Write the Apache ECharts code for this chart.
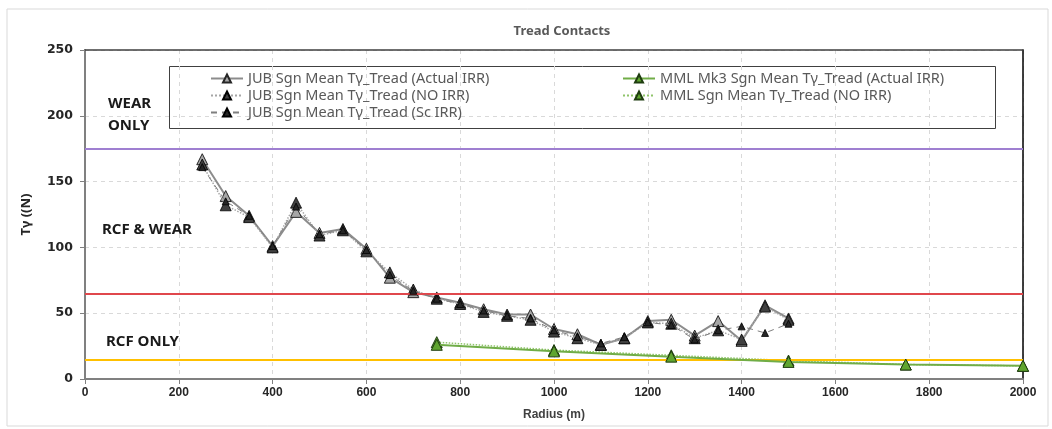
<!DOCTYPE html>
<html>
<head>
<meta charset="utf-8">
<title>Tread Contacts</title>
<script src="https://cdn.jsdelivr.net/npm/echarts@6/dist/echarts.min.js"></script>
<style>
  html, body { margin: 0; padding: 0; background: #fff; }
  #main { width: 1052px; height: 429px; }
</style>
</head>
<body>
<div id="main"></div>
<script type="text/javascript">
// radius (m) for the JUB points
var xJub = [250, 300, 350, 400, 450, 500, 550, 600, 650, 700, 750, 800, 850, 900, 950,
            1000, 1050, 1100, 1150, 1200, 1250, 1300, 1350, 1400, 1450, 1500];
var jubActual = [167, 139, 124, 101, 127, 111, 114, 99, 77, 66, 62, 58, 53, 49, 49,
                 38, 34, 26, 31, 44, 45, 33, 44, 29, 56, 46];
var jubNo = [163, 132, 123, 100, 134, 109, 113, 97, 81, 68, 61, 57, 51, 48, 45,
             36, 31, 26, 31, 43, 42, 31, 37, 30, 55, 45];
var jubSc = [161, 135, 124, 101, 131, 110, 113, 98, 79, 67, 61, 57, 52, 48, 46,
             37, 32, 27, 32, 43, 41, 30, 37, 40, 35, 42];

// radius (m) for the MML points
var xMml = [750, 1000, 1250, 1500, 1750, 2000];
var mmlActual = [26, 21, 17, 13, 11, 10];
var mmlNo = [28, 22, 18, 14, 11, 10];

// zone limits: wear only / rcf & wear / rcf only
var limits = [175, 65, 15];
var limitColors = ['#9f7fd1', '#e0474c', '#ffc000'];

var seriesNames = [
  'JUB Sgn Mean Tγ_Tread (Actual IRR)',
  'JUB Sgn Mean Tγ_Tread (NO IRR)',
  'JUB Sgn Mean Tγ_Tread (Sc IRR)',
  'MML Mk3 Sgn Mean Tγ_Tread (Actual IRR)',
  'MML Sgn Mean Tγ_Tread (NO IRR)'
];

function pairs(xs, ys) {
  var out = [];
  for (var i = 0; i < xs.length; i++) out.push([xs[i], ys[i]]);
  return out;
}

var myChart = echarts.init(document.getElementById('main'));

var legendText = { fontFamily: 'Noto Sans', fontSize: 14.5, color: '#595959' };
var tickFont = 'Liberation Sans Narrow, Liberation Sans';

var option = {
  animation: false,
  backgroundColor: '#fff',
  title: {
    text: 'Tread Contacts',
    left: 557,
    textAlign: 'center',
    top: 20,
    textStyle: { fontFamily: 'Noto Sans', fontSize: 13, fontWeight: 'bold', color: '#595959' }
  },
  grid: { left: 85, right: 29, top: 50, bottom: 50 },
  legend: [{
    data: seriesNames.slice(0, 3),
    orient: 'vertical',
    left: 205, top: 66,
    itemWidth: 32, itemHeight: 10, itemGap: 2,
    textStyle: legendText
  }, {
    data: seriesNames.slice(3),
    orient: 'vertical',
    left: 617, top: 66,
    itemWidth: 32, itemHeight: 10, itemGap: 2,
    textStyle: legendText
  }],
  xAxis: [{
    type: 'value',
    min: 0, max: 2000, interval: 200,
    name: 'Radius (m)',
    nameLocation: 'middle',
    nameGap: 30,
    nameTextStyle: { fontFamily: tickFont, fontSize: 12, fontWeight: 'bold', color: '#404040' },
    axisLine: { onZero: false, lineStyle: { color: '#808080', width: 2 } },
    axisTick: { show: true, length: 5, lineStyle: { color: '#808080' } },
    axisLabel: {
      fontFamily: tickFont, fontSize: 12, fontWeight: 'bold', color: '#262626', margin: 8,
      formatter: function(v) { return String(v); }
    },
    splitLine: { show: true, lineStyle: { color: '#d9d9d9', type: [4, 4] } }
  }, {
    // top frame edge
    type: 'value', position: 'top',
    min: 0, max: 2000,
    axisLine: { onZero: false, lineStyle: { color: '#404040', width: 1.5 } },
    axisTick: { show: false }, axisLabel: { show: false }, splitLine: { show: false }
  }],
  yAxis: [{
    type: 'value',
    min: 0, max: 250, interval: 50,
    name: 'Tγ ((N)',
    nameLocation: 'middle',
    nameGap: 52,
    nameTextStyle: { fontFamily: 'Noto Sans', fontSize: 13, fontWeight: 'bold', color: '#262626' },
    axisLine: { show: true, lineStyle: { color: '#808080', width: 2 } },
    axisTick: { show: true, length: 5, lineStyle: { color: '#808080' } },
    axisLabel: { fontFamily: 'DejaVu Sans', fontSize: 12.5, fontWeight: 'bold', color: '#262626', margin: 12 },
    splitLine: { show: true, lineStyle: { color: '#d9d9d9', type: [4, 4] } }
  }, {
    // right frame edge
    type: 'value', position: 'right',
    min: 0, max: 250,
    axisLine: { show: true, onZero: false, lineStyle: { color: '#000', width: 1.5 } },
    axisTick: { show: false }, axisLabel: { show: false }, splitLine: { show: false }
  }],
  graphic: [
    // outer frame
    { type: 'rect', shape: { x: 7, y: 9, width: 1041, height: 417 },
      style: { fill: 'none', stroke: '#d9d9d9', lineWidth: 1 }, z: -1 },
    // legend frame
    { type: 'rect', shape: { x: 169.5, y: 66.5, width: 826, height: 62 },
      style: { fill: 'none', stroke: '#404040', lineWidth: 1 }, z: 0 },
    { type: 'text', left: 108, top: 93,
      style: { text: 'WEAR\nONLY', fontFamily: 'Noto Sans', fontSize: 15, fontWeight: 'bold', fill: '#1a1a1a', lineHeight: 22 }, z: 10 },
    { type: 'text', left: 102, top: 222,
      style: { text: 'RCF & WEAR', fontFamily: 'Noto Sans', fontSize: 15, fontWeight: 'bold', fill: '#1a1a1a' }, z: 10 },
    { type: 'text', left: 106, top: 334,
      style: { text: 'RCF ONLY', fontFamily: 'Noto Sans', fontSize: 15, fontWeight: 'bold', fill: '#1a1a1a' }, z: 10 }
  ],
  series: [{
    name: 'limits',
    type: 'line',
    data: [],
    markLine: {
      silent: true,
      symbol: 'none',
      label: { show: false },
      data: limits.map(function(v, i) {
        return { yAxis: v, lineStyle: { color: limitColors[i], width: 2, type: 'solid' } };
      })
    }
  }, {
    name: seriesNames[0],
    type: 'line',
    data: pairs(xJub, jubActual),
    symbol: 'triangle', symbolSize: 11,
    lineStyle: { color: '#8c8c8c', width: 2 },
    itemStyle: { color: '#a6a6a6', borderColor: '#262626', borderWidth: 1 },
    z: 3
  }, {
    name: seriesNames[1],
    type: 'line',
    data: pairs(xJub, jubNo),
    symbol: 'triangle', symbolSize: 11,
    lineStyle: { color: '#a6a6a6', width: 1.5, type: 'dotted' },
    itemStyle: { color: '#404040', borderColor: '#000', borderWidth: 0.8 },
    z: 4
  }, {
    name: seriesNames[2],
    type: 'line',
    data: pairs(xJub, jubSc),
    symbol: 'triangle', symbolSize: 7,
    lineStyle: { color: '#7f7f7f', width: 1, type: [6, 5] },
    itemStyle: { color: '#262626', borderColor: '#000', borderWidth: 0.8 },
    z: 5
  }, {
    name: seriesNames[3],
    type: 'line',
    data: pairs(xMml, mmlActual),
    symbol: 'triangle', symbolSize: 11,
    lineStyle: { color: '#70ad47', width: 2 },
    itemStyle: { color: '#5fa52f', borderColor: '#1f3d10', borderWidth: 1 },
    z: 5
  }, {
    name: seriesNames[4],
    type: 'line',
    data: pairs(xMml, mmlNo),
    symbol: 'triangle', symbolSize: 11,
    lineStyle: { color: '#8fc46a', width: 1.5, type: 'dotted' },
    itemStyle: { color: '#5fa52f', borderColor: '#1f3d10', borderWidth: 1 },
    z: 4
  }]
};

myChart.setOption(option);
</script>
</body>
</html>
